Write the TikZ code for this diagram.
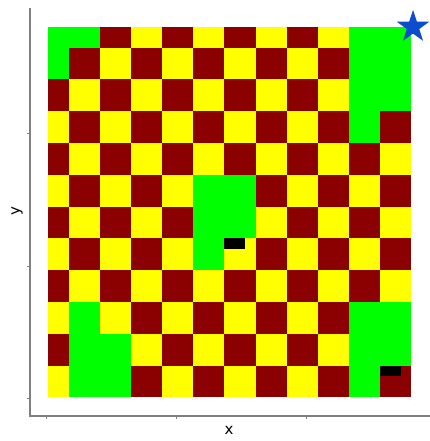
\documentclass[tikz,border=0pt]{standalone}
\usepackage{fontspec}
\setmainfont{DejaVu Sans}
\definecolor{cred}{HTML}{8B0000}
\definecolor{cyel}{HTML}{FFFF00}
\definecolor{cgrn}{HTML}{00FF00}
\definecolor{cstar}{HTML}{0B4DCC}
\definecolor{caxis}{HTML}{7F7F7F}
\begin{document}
\begin{tikzpicture}[x=1pt,y=-1pt,
  axisline/.style={draw=caxis, line width=1.3pt},
  tickline/.style={draw=caxis, line width=0.8pt},
  axlabel/.style={font=\fontsize{15}{17}\selectfont, inner sep=0pt, text=black}]
\useasboundingbox[fill=white] (0,0) rectangle (430,441);
% checkerboard
\foreach \r in {0,...,11}{
  \foreach \c in {0,...,11}{
    \pgfmathsetmacro\xa{max(48.3,69+(\c-1)*31.09)}
    \pgfmathsetmacro\xb{69+\c*31.09}
    \pgfmathsetmacro\ya{max(26.7,47.7+(\r-1)*31.78)}
    \pgfmathsetmacro\yb{47.7+\r*31.78}
    \pgfmathtruncatemacro\s{\r+\c}
    \ifodd\s\def\col{cyel}\else\def\col{cred}\fi
    \fill[\col] (\xa,\ya) rectangle (\xb,\yb);
  }
}
% green cells
\foreach \r/\c in {0/0,0/1,1/0,0/10,0/11,1/10,1/11,2/10,2/11,3/10,
                   5/5,5/6,6/5,6/6,7/5,
                   9/1,10/1,10/2,11/1,11/2,
                   9/10,9/11,10/10,10/11,11/10}{
    \pgfmathsetmacro\xa{max(48.3,69+(\c-1)*31.09)}
    \pgfmathsetmacro\xb{69+\c*31.09}
    \pgfmathsetmacro\ya{max(26.7,47.7+(\r-1)*31.78)}
    \pgfmathsetmacro\yb{47.7+\r*31.78}
    \fill[cgrn] (\xa,\ya) rectangle (\xb,\yb);
}
% black markers
\fill[black] (224.3,238.3) rectangle (245,249.3);
\fill[black] (380,365.7) rectangle (401,375.7);
% star
\fill[cstar] (413,27) +(-90:17) -- +(-54:6.6) -- +(-18:17) -- +(18:6.6) -- +(54:17)
  -- +(90:6.6) -- +(126:17) -- +(162:6.6) -- +(198:17) -- +(234:6.6) -- cycle;
% axes
\coordinate (ytop) at (30,8);
\coordinate (origin) at (30,416);
\coordinate (xend) at (430,416);
\draw[axisline] (ytop) -- (origin) -- (xend);
\foreach \y in {133.3,266.7,398.3}{\draw[tickline] (27,\y) -- (30,\y);}
\foreach \x in {46.7,176.7,306}{\draw[tickline] (\x,416) -- (\x,419);}
% labels
\node[axlabel] (xlab) at (229,430) {x};
\node[axlabel, rotate=90] (ylab) at (17,211) {y};
\end{tikzpicture}
\end{document}
